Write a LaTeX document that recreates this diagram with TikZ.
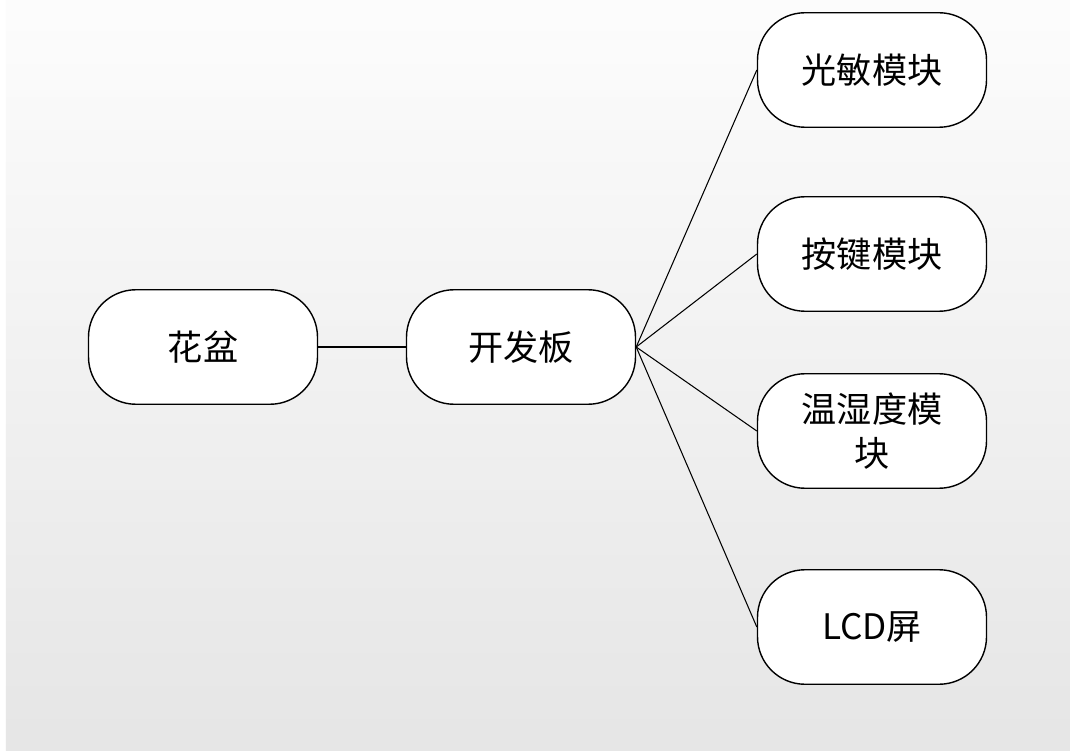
\documentclass[tikz,border=0pt]{standalone}
\usepackage{fontspec}
\setmainfont{Noto Sans CJK SC}
\tikzset{
  module/.style={draw, line width=0.8pt, fill=white, rounded corners=0.95cm,
    minimum width=4.58cm, minimum height=2.29cm, inner sep=0pt, align=center,
    font=\fontsize{20}{25}\selectfont}
}
\begin{document}
\begin{tikzpicture}
      \useasboundingbox (0,0) rectangle (21.4,-15.02);
      \fill[white] (0,0) rectangle (21.4,-15.02);
      \shade[top color=white!99!black, bottom color=black!10] (0.12,0) rectangle (21.4,-15.02);
      \draw
        (4.06,-6.94) node[module] (pot){花盆}
        (10.42,-6.94) node[module] (board){开发板}
        (17.44,-1.40) node[module] (light){光敏模块}
        (17.44,-5.08) node[module] (key){按键模块}
        (17.44,-8.62) node[module] (sensor){温湿度模\\块}
        (17.44,-12.54) node[module] (lcd){LCD屏};
      \begin{scope}[-, line width=0.6pt]
        \draw (pot.east) to (board.west);
        \draw (board.east) to (light.west);
        \draw (board.east) to (key.west);
        \draw (board.east) to (sensor.west);
        \draw (board.east) to (lcd.west);
      \end{scope}
    \end{tikzpicture}
\end{document}
